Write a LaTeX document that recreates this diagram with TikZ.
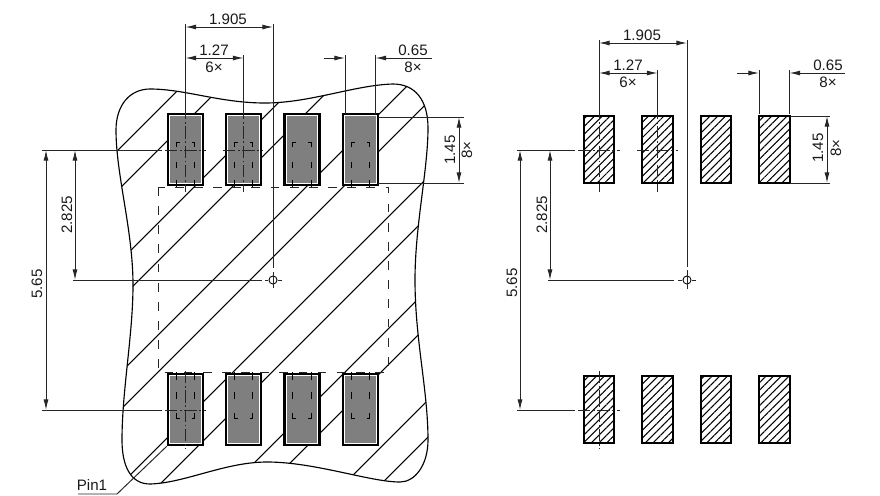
\documentclass[tikz,border=0pt]{standalone}
\usepackage{fontspec}
\setmainfont{Liberation Sans}
\usetikzlibrary{arrows.meta,patterns.meta}

\tikzset{
  padleft/.style={draw=black,line width=1.2pt,fill=white,inner sep=0pt,minimum width=19.9pt,minimum height=40.4pt},
  padcore/.style={fill=padgray,inner sep=0pt,minimum width=17.4pt,minimum height=37.6pt},
  padright/.style={draw=black,line width=1.1pt,inner sep=0pt,minimum width=17.4pt,minimum height=38.1pt,
    pattern={Lines[angle=45,distance=3.1pt,line width=0.6pt]}},
  dimline/.style={draw=linegray,line width=0.55pt,{Latex[length=6pt,width=2.8pt]}-{Latex[length=6pt,width=2.8pt]}},
  dimarrow/.style={draw=linegray,line width=0.55pt,-{Latex[length=6pt,width=2.8pt]}},
  extline/.style={draw=linegray,line width=0.55pt},
  midline/.style={draw=linegray,line width=0.45pt,dash pattern=on 7pt off 1.5pt on 1pt off 1.5pt},
  hatchline/.style={line width=0.6pt},
  outline/.style={line width=0.65pt},
  hidden/.style={draw=linegray,line width=0.55pt,dash pattern=on 5pt off 5.9pt},
  inner/.style={line width=0.5pt,draw=black},
  dimtext/.style={font=\fontsize{8.6}{9}\selectfont,inner sep=0pt,text=black!90}
}
\definecolor{padgray}{HTML}{7F7F7F}
\definecolor{linegray}{HTML}{262626}

\newcommand{\blobpath}{(116,130) .. controls (116,105) and (130,89) .. (150,89)
  .. controls (185,89) and (220,103) .. (265,103)
  .. controls (310,103) and (355,85) .. (393,84)
  .. controls (415,84) and (428,100) .. (428,128)
  .. controls (428,170) and (415,225) .. (415,280)
  .. controls (415,340) and (428,390) .. (428,440)
  .. controls (428,465) and (415,482) .. (400,482)
  .. controls (370,482) and (315,462) .. (267,462)
  .. controls (225,462) and (185,483) .. (150,484)
  .. controls (130,484) and (122,465) .. (122,440)
  .. controls (122,390) and (133,335) .. (133,285)
  .. controls (133,230) and (116,175) .. (116,130) -- cycle}

\begin{document}
\begin{tikzpicture}[x=0.02cm,y=-0.02cm]
  \useasboundingbox (0,0) rectangle (880,495);

  % left drawing
  \begin{scope}
    \clip \blobpath;
    \foreach \u in {268,308,381,419,493,530,605,644,717,753,828,865}
      \draw[hatchline] (\u-500,500) -- (\u,0);
  \end{scope}
  \draw[outline] \blobpath;
  \draw[hidden] (158,187) rectangle (388,372);

  \foreach \n/\c in {1/185.5,2/243.5,3/302,4/360.5} {
    \node[padleft] (lt\n) at (\c,149.5) {};
    \node[padcore] (ltc\n) at (\c,149.5) {};
    \node[padleft] (lb\n) at (\c,409.5) {};
    \node[padcore] (lbc\n) at (\c,409.5) {};
    \draw[inner] (\c-9.3,147) -- (\c-9.3,142) -- (\c-6,142) (\c+6,142) -- (\c+9.3,142) -- (\c+9.3,147)
      (\c-9.3,162) -- (\c-9.3,168) (\c+9.3,162) -- (\c+9.3,168)
      (\c-9.3,180) -- (\c-9.3,187) (\c+9.3,180) -- (\c+9.3,187);
    \draw[inner] (\c-9.3,413) -- (\c-9.3,418) -- (\c-6,418) (\c+6,418) -- (\c+9.3,418) -- (\c+9.3,413)
      (\c-9.3,392) -- (\c-9.3,399) (\c+9.3,392) -- (\c+9.3,399)
      (\c-9.3,372) -- (\c-9.3,380) (\c+9.3,372) -- (\c+9.3,380);
  }

  % right drawing
  \foreach \n/\c in {1/599,2/657.5,3/716,4/774.5} {
    \node[padright] (rt\n) at (\c,149.5) {};
    \node[padright] (rb\n) at (\c,409.5) {};
  }

  % reference points
  \coordinate (lorg) at (273,280);
  \coordinate (rorg) at (687,280);
  \draw[line width=0.5pt] (lorg) circle (2.3pt);
  \draw[line width=0.5pt] (rorg) circle (2.3pt);

  % center lines
  \foreach \s/\c in {l/185.5,l/243.5,r/599,r/657.5} {
    \draw[midline] (\c,107) -- (\c,192);
  }
  \draw[midline] (165,150) -- (206,150);
  \draw[midline] (223,150) -- (263,150);
  \draw[midline] (165,410) -- (206,410);
  \draw[midline] (185.5,371) -- (185.5,449);
  \draw[midline] (578,150) -- (620,150);
  \draw[midline] (637,150) -- (678,150);
  \draw[midline] (578,410) -- (620,410);
  \draw[midline] (599,371) -- (599,449);
  \draw[extline] (265,280) -- (268,280) (278,280) -- (282,280) (273,272) -- (273,288);
  \draw[extline] (678,280) -- (682,280) (692,280) -- (696,280) (687,270) -- (687,289);

  % left dimensions
  \draw[extline] (185.5,24) -- (185.5,107);
  \draw[extline] (273,24) -- (273,268);
  \draw[extline] (243.5,55) -- (243.5,107);
  \draw[extline] (345,55) -- (345,114);
  \draw[extline] (375.5,55) -- (375.5,114);
  \draw[extline] (378,117) -- (464,117);
  \draw[extline] (378,183) -- (464,183);
  \draw[extline] (42,150) -- (162,150);
  \draw[extline] (42,410) -- (162,410);
  \draw[extline] (73,280) -- (262,280);

  \coordinate (la) at (185.5,27); \coordinate (lb) at (273,27);
  \draw[dimline] (la) -- (lb);
  \coordinate (lc) at (185.5,58); \coordinate (ld) at (243.5,58);
  \draw[dimline] (lc) -- (ld);
  \coordinate (le) at (324,58); \coordinate (lf) at (345,58);
  \coordinate (lg) at (432,58); \coordinate (lh) at (375.5,58);
  \draw[dimarrow] (le) -- (lf);
  \draw[dimarrow] (lg) -- (lh);
  \coordinate (li) at (459,117); \coordinate (lj) at (459,183);
  \draw[dimline] (li) -- (lj);
  \coordinate (lk) at (75,150); \coordinate (ll) at (75,280);
  \draw[dimline] (lk) -- (ll);
  \coordinate (lm) at (46,150); \coordinate (ln) at (46,410);
  \draw[dimline] (lm) -- (ln);

  \node[dimtext] (t1) at (228,19) {1.905};
  \node[dimtext] (t2) at (214,50) {1.27};
  \node[dimtext] (t3) at (214,67) {6×};
  \node[dimtext] (t4) at (413,50) {0.65};
  \node[dimtext] (t5) at (413,67) {8×};
  \node[dimtext,rotate=90] (t6) at (450,150) {1.45};
  \node[dimtext,rotate=90] (t7) at (467,150) {8×};
  \node[dimtext,rotate=90] (t8) at (67,215) {2.825};
  \node[dimtext,rotate=90] (t9) at (37,284) {5.65};

  % pin marker
  \node[dimtext] (pin) at (92,485) {Pin1};
  \coordinate (pinend) at (78,494);
  \coordinate (pinbend) at (117,494);
  \draw[extline] (pinend) -- (pinbend) -- (lb1.south west);

  % right dimensions
  \draw[extline] (599,40) -- (599,107);
  \draw[extline] (687,40) -- (687,267);
  \draw[extline] (657.5,70) -- (657.5,107);
  \draw[extline] (759,70) -- (759,114);
  \draw[extline] (789.5,70) -- (789.5,114);
  \draw[extline] (790,116) -- (830,116);
  \draw[extline] (790,183) -- (830,183);
  \draw[extline] (517,150) -- (575,150);
  \draw[extline] (517,410) -- (575,410);
  \draw[extline] (548,280) -- (674,280);

  \coordinate (ra) at (599,43); \coordinate (rb) at (687,43);
  \draw[dimline] (ra) -- (rb);
  \coordinate (rc) at (599,73); \coordinate (rd) at (657.5,73);
  \draw[dimline] (rc) -- (rd);
  \coordinate (re) at (737,73); \coordinate (rf) at (759,73);
  \coordinate (rg) at (845,73); \coordinate (rh) at (789.5,73);
  \draw[dimarrow] (re) -- (rf);
  \draw[dimarrow] (rg) -- (rh);
  \coordinate (ri) at (827,116); \coordinate (rj) at (827,183);
  \draw[dimline] (ri) -- (rj);
  \coordinate (rk) at (550,150); \coordinate (rl) at (550,280);
  \draw[dimline] (rk) -- (rl);
  \coordinate (rm) at (520,150); \coordinate (rn) at (520,410);
  \draw[dimline] (rm) -- (rn);

  \node[dimtext] (u1) at (642,35) {1.905};
  \node[dimtext] (u2) at (628,65) {1.27};
  \node[dimtext] (u3) at (628,82) {6×};
  \node[dimtext] (u4) at (828,65) {0.65};
  \node[dimtext] (u5) at (828,82) {8×};
  \node[dimtext,rotate=90] (u6) at (818,148) {1.45};
  \node[dimtext,rotate=90] (u7) at (836,148) {8×};
  \node[dimtext,rotate=90] (u8) at (542,215) {2.825};
  \node[dimtext,rotate=90] (u9) at (512,283) {5.65};
\end{tikzpicture}
\end{document}
